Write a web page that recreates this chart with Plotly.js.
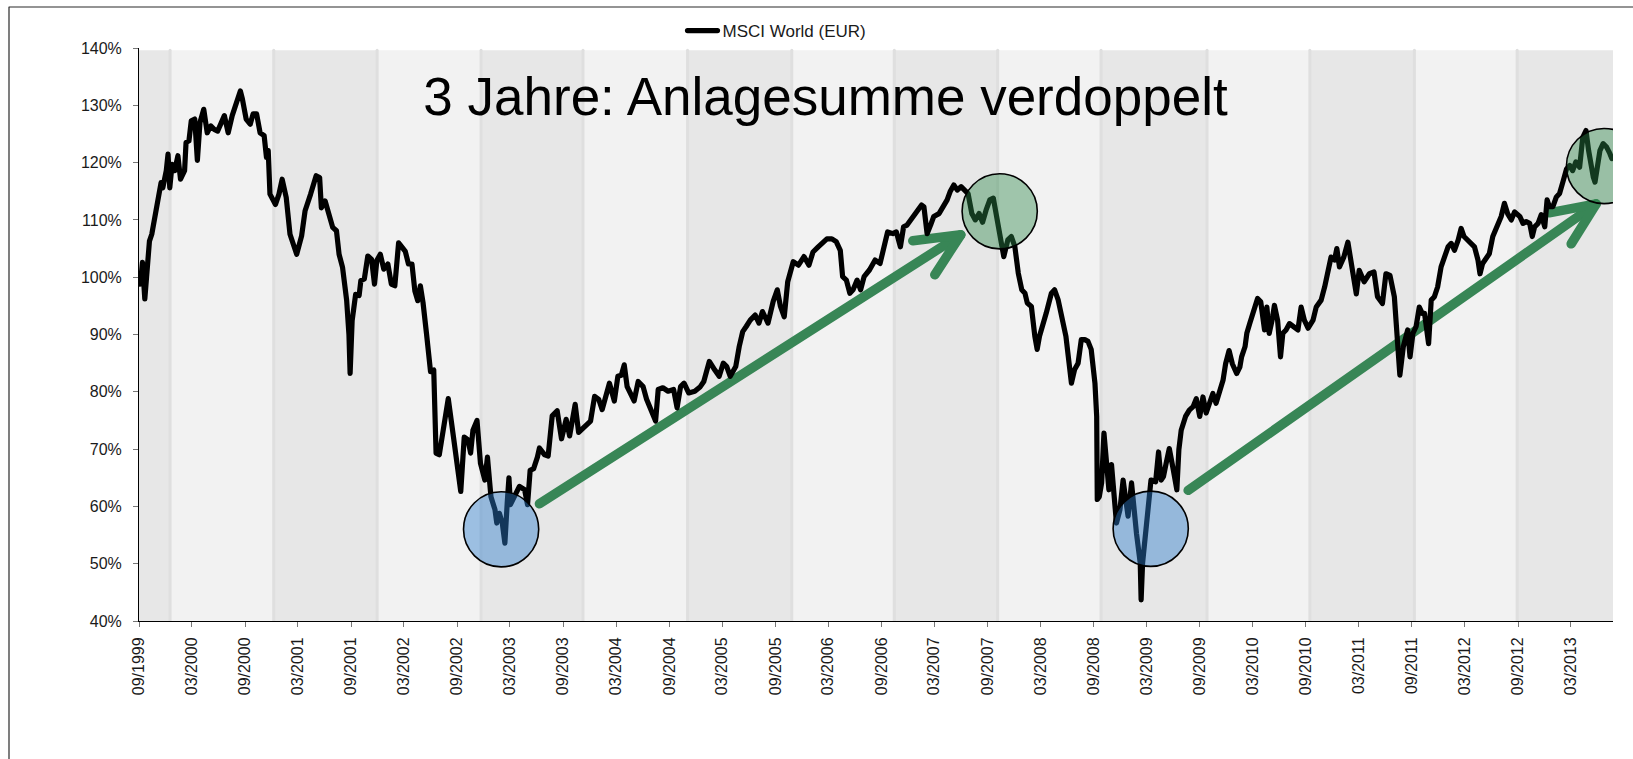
<!DOCTYPE html>
<html>
<head>
<meta charset="utf-8">
<script src="https://cdn.plot.ly/plotly-3.0.1.min.js"></script>
<style>
html,body{margin:0;padding:0;background:#ffffff;}
#chart{width:1633px;height:759px;}
.js-line{stroke-linejoin:round !important;stroke-linecap:round !important;}
.shapelayer path{stroke-linejoin:round !important;stroke-linecap:round !important;}
</style>
</head>
<body>
<div id="chart"></div>
<script>
// ---------------- data ----------------
const seriesName = 'MSCI World (EUR)';
const chartTitle = '3 Jahre: Anlagesumme verdoppelt';

const dates = [
'1999-09-01','1999-09-06','1999-09-13','1999-09-21','1999-09-27','1999-10-07','1999-10-15','1999-10-24','1999-11-04','1999-11-10',
'1999-11-16','1999-11-22','1999-11-28','1999-12-04','1999-12-10','1999-12-16','1999-12-24','2000-01-02','2000-01-13','2000-01-22',
'2000-02-05','2000-02-10','2000-02-20','2000-02-28','2000-03-11','2000-03-20','2000-03-29','2000-04-11','2000-04-23','2000-05-05',
'2000-05-17','2000-05-29','2000-06-21','2000-07-04','2000-07-18','2000-07-30','2000-08-15','2000-08-22','2000-09-04','2000-09-18',
'2000-09-28','2000-10-10','2000-10-22','2000-11-05','2000-11-13','2000-11-19','2000-11-25','2000-12-14','2000-12-26','2001-01-06',
'2001-01-20','2001-02-02','2001-02-25','2001-03-14','2001-03-26','2001-04-14','2001-05-03','2001-05-15','2001-05-21','2001-06-03',
'2001-06-15','2001-06-29','2001-07-12','2001-07-21','2001-08-02','2001-08-16','2001-08-24','2001-08-28','2001-09-04','2001-09-10',
'2001-09-16','2001-09-28','2001-10-04','2001-10-16','2001-10-28','2001-11-10','2001-11-20','2001-11-28','2001-12-10','2001-12-22',
'2002-01-05','2002-01-17','2002-01-29','2002-02-11','2002-02-22','2002-03-06','2002-03-17','2002-03-29','2002-04-08','2002-04-18',
'2002-04-27','2002-05-06','2002-05-18','2002-06-01','2002-06-12','2002-06-20','2002-07-01','2002-07-13','2002-08-01','2002-08-19',
'2002-09-02','2002-09-13','2002-09-25','2002-10-08','2002-10-17','2002-10-25','2002-11-08','2002-11-20','2002-12-05','2002-12-14',
'2002-12-26','2003-01-09','2003-01-15','2003-01-24','2003-02-03','2003-02-12','2003-02-20','2003-02-26','2003-03-03','2003-03-15',
'2003-04-03','2003-04-21','2003-05-01','2003-05-10','2003-05-22','2003-06-04','2003-06-11','2003-06-29','2003-07-11','2003-07-25',
'2003-08-11','2003-08-26','2003-09-11','2003-09-23','2003-10-12','2003-10-24','2003-11-12','2003-12-04','2003-12-18','2004-01-01',
'2004-01-13','2004-01-24','2004-02-07','2004-02-24','2004-03-07','2004-03-19','2004-03-29','2004-04-08','2004-04-20','2004-05-02',
'2004-05-16','2004-06-02','2004-06-14','2004-06-26','2004-07-15','2004-07-24','2004-08-09','2004-08-27','2004-09-15','2004-09-27',
'2004-10-09','2004-10-21','2004-11-06','2004-11-27','2004-12-16','2004-12-28','2005-01-16','2005-02-04','2005-02-19','2005-03-05',
'2005-03-17','2005-03-29','2005-04-17','2005-04-29','2005-05-11','2005-05-23','2005-06-06','2005-06-23','2005-07-06','2005-07-18',
'2005-08-06','2005-08-24','2005-09-07','2005-09-18','2005-10-01','2005-10-13','2005-11-01','2005-11-19','2005-12-08','2005-12-25',
'2006-01-08','2006-01-26','2006-02-08','2006-02-25','2006-03-14','2006-03-29','2006-04-12','2006-04-20','2006-05-03','2006-05-15',
'2006-05-26','2006-06-09','2006-06-21','2006-07-03','2006-07-22','2006-08-10','2006-08-27','2006-09-10','2006-09-22','2006-10-10',
'2006-10-22','2006-11-05','2006-11-16','2006-11-28','2006-12-14','2006-12-29','2007-01-17','2007-01-25','2007-02-05','2007-02-17',
'2007-02-28','2007-03-18','2007-03-30','2007-04-15','2007-04-25','2007-05-08','2007-05-20','2007-06-02','2007-06-14','2007-06-26',
'2007-07-09','2007-07-21','2007-08-03','2007-08-15','2007-08-27','2007-09-09','2007-09-21','2007-10-03','2007-10-15','2007-10-27',
'2007-11-10','2007-11-22','2007-12-04','2007-12-16','2007-12-28','2008-01-08','2008-01-16','2008-01-30','2008-02-11','2008-02-19',
'2008-02-27','2008-03-10','2008-03-21','2008-04-08','2008-04-19','2008-05-01','2008-05-12','2008-05-28','2008-06-16','2008-06-27',
'2008-07-09','2008-07-20','2008-08-01','2008-08-12','2008-08-23','2008-09-05','2008-09-11','2008-09-13','2008-09-20','2008-09-28',
'2008-10-06','2008-10-15','2008-10-23','2008-11-01','2008-11-07','2008-11-18','2008-11-30','2008-12-11','2008-12-20','2008-12-28',
'2009-01-09','2009-01-17','2009-01-26','2009-02-08','2009-02-11','2009-02-16','2009-02-24','2009-03-06','2009-03-17','2009-04-02',
'2009-04-12','2009-04-21','2009-04-29','2009-05-08','2009-05-19','2009-06-01','2009-06-14','2009-06-21','2009-06-29','2009-07-14',
'2009-07-27','2009-08-09','2009-08-20','2009-09-01','2009-09-12','2009-09-23','2009-10-05','2009-10-16','2009-10-27','2009-11-09',
'2009-11-20','2009-11-29','2009-12-11','2009-12-22','2010-01-06','2010-01-17','2010-01-23','2010-02-04','2010-02-10','2010-02-20',
'2010-03-08','2010-03-19','2010-03-30','2010-04-12','2010-04-20','2010-04-28','2010-05-08','2010-05-16','2010-05-27','2010-06-06',
'2010-06-14','2010-06-25','2010-07-07','2010-07-24','2010-08-05','2010-08-16','2010-08-27','2010-09-09','2010-09-26','2010-10-07',
'2010-10-24','2010-11-05','2010-11-16','2010-11-27','2010-12-09','2010-12-17','2010-12-26','2011-01-10','2011-01-24','2011-02-05',
'2011-02-13','2011-02-22','2011-03-04','2011-03-21','2011-04-08','2011-04-24','2011-05-06','2011-05-23','2011-06-04','2011-06-18',
'2011-07-03','2011-07-11','2011-07-22','2011-08-03','2011-08-18','2011-08-26','2011-09-05','2011-09-16','2011-09-27','2011-10-07',
'2011-10-15','2011-10-29','2011-11-07','2011-11-18','2011-11-29','2011-12-11','2011-12-22','2012-01-04','2012-01-15','2012-01-26',
'2012-02-08','2012-02-18','2012-02-28','2012-03-12','2012-03-23','2012-04-04','2012-04-16','2012-04-23','2012-05-02','2012-05-14',
'2012-05-25','2012-06-06','2012-06-20','2012-07-05','2012-07-16','2012-07-27','2012-08-09','2012-08-20','2012-09-07','2012-09-18',
'2012-09-29','2012-10-11','2012-10-20','2012-10-28','2012-11-09','2012-11-20','2012-12-02','2012-12-10','2012-12-18','2012-12-30',
'2013-01-11','2013-01-22','2013-02-04','2013-02-15','2013-02-26','2013-03-08','2013-03-19','2013-04-01','2013-04-12','2013-04-23',
'2013-05-02','2013-05-10','2013-05-18','2013-05-24','2013-06-03','2013-06-10','2013-06-21','2013-07-03','2013-07-14','2013-07-21'
];

const values = [
100.0,98.8,102.6,96.2,100.0,106.3,107.5,110.4,113.3,115.0,
116.5,115.6,116.8,118.6,121.5,115.6,119.7,118.6,121.2,117.1,
118.6,123.5,123.8,127.3,127.6,120.4,127.0,129.3,125.2,126.4,
125.8,125.5,128.2,125.2,128.2,130.2,132.5,131.1,127.6,126.7,
128.5,128.5,125.2,124.7,120.9,122.1,114.5,112.7,114.5,117.1,
113.9,107.5,104.0,107.2,111.6,114.5,117.7,117.4,112.1,113.3,
110.9,108.7,108.1,104.0,101.7,96.0,90.0,83.2,92.4,95.9,
97.0,96.8,99.4,99.7,103.7,103.1,98.8,102.9,104.0,101.4,
102.3,98.8,98.5,106.0,105.1,104.5,102.3,102.3,97.6,95.9,
98.5,95.6,90.2,83.5,83.8,69.3,69.0,72.7,78.8,72.1,
66.9,62.6,72.1,71.6,69.3,73.3,75.0,67.5,64.6,68.6,
61.7,59.4,57.1,58.8,57.1,53.6,60.6,65.0,60.3,61.7,
63.5,62.9,60.3,66.3,66.6,68.6,70.2,69.0,68.8,75.8,
76.7,71.8,75.2,72.3,77.8,72.9,73.8,74.9,79.2,78.7,
76.9,79.2,81.5,78.4,82.7,82.9,84.7,80.9,79.8,78.4,
81.8,80.9,78.7,77.2,74.9,80.4,80.7,80.1,80.4,77.2,
80.9,81.5,79.8,80.1,80.9,81.8,85.3,83.8,82.7,85.0,
84.4,82.7,84.4,87.9,90.5,91.4,92.5,93.4,92.0,94.0,
92.0,95.8,97.8,94.9,93.1,99.2,102.7,102.1,103.6,102.1,
104.4,105.3,105.9,106.7,106.7,106.2,104.7,100.1,99.5,97.2,
97.8,99.5,97.8,100.1,101.3,103.0,102.4,105.3,107.9,107.6,
107.9,105.3,108.8,109.1,110.3,111.1,112.6,112.3,107.6,109.1,
110.6,111.1,112.0,113.5,114.9,116.1,115.2,115.8,115.2,114.6,
111.1,110.0,111.1,109.6,111.7,113.5,113.8,110.5,107.7,103.6,
106.5,107.1,105.4,100.7,97.8,97.2,95.5,94.9,89.7,87.4,
89.7,92.3,93.7,97.2,97.8,96.1,93.7,89.7,81.5,83.9,
85.0,89.1,89.1,88.8,87.4,81.5,75.7,61.2,61.7,64.1,
72.8,66.4,62.9,67.3,62.9,57.1,59.4,64.6,61.2,58.3,
64.1,59.4,55.3,50.1,43.7,50.1,53.6,58.3,64.6,64.3,
69.5,64.6,65.2,67.5,70.1,66.6,62.9,69.9,73.3,75.7,
76.8,77.4,78.8,75.7,79.1,76.3,78.0,79.7,78.0,80.3,
82.0,84.9,87.2,84.9,83.2,84.3,86.1,87.9,90.2,91.9,
94.8,96.3,95.7,90.8,94.8,90.2,92.5,95.1,92.5,86.1,
90.2,90.8,91.9,91.4,90.8,94.8,92.5,91.1,92.5,94.8,
96.0,98.3,101.2,103.5,103.0,105.0,101.8,103.5,106.1,102.3,
100.6,97.1,101.2,99.2,100.6,100.9,96.6,95.4,100.6,100.3,
96.6,90.2,82.9,87.9,90.8,86.1,90.2,91.4,94.8,93.7,
93.7,88.4,96.0,96.6,98.3,101.8,103.5,105.3,105.9,104.7,
106.5,108.5,107.1,106.5,105.9,105.3,103.0,100.6,102.4,103.5,
104.1,107.1,108.8,110.6,112.9,111.1,110.0,111.4,110.6,109.4,
109.7,109.4,107.1,108.8,109.4,110.9,108.8,113.5,112.3,112.3,
114.0,114.6,116.9,118.9,119.5,118.6,120.1,119.2,124.4,125.6,
122.1,119.2,117.5,116.6,119.2,122.1,123.3,122.7,121.6,120.7
];

// axis settings
const xRange = ['1999-09-01', '2013-07-25'];
const yRange = [40, 140];
const bandTop = 139.6;
// background band boundaries (alternating shading)
const bandEdges = ['1999-12-17','2000-12-08','2001-11-29','2002-11-22','2003-11-08','2004-11-02','2005-10-27',
                   '2006-10-15','2007-10-06','2008-09-26','2009-09-26','2010-09-15','2011-09-10','2012-08-29'];
// highlighted lows (blue) and highs (green)
const lowDates = ['2003-01-30', '2009-03-16'];
const lowValues = [56.0, 56.1];
const highDates = ['2007-10-13', '2013-06-24'];
const highValues = [111.5, 119.4];
// arrows: tail -> tip
const arrowTailDates = ['2003-06-11', '2009-07-23'];
const arrowTailValues = [60.45, 62.8];
const arrowTipDates = ['2007-06-01', '2013-05-28'];
const arrowTipValues = [107.4, 112.8];

// ---------------- layout ----------------
const W = 1633, H = 759;
const margin = {l: 139, r: 20, t: 48, b: 138, pad: 0, autoexpand: false};
const plotW = W - margin.l - margin.r, plotH = H - margin.t - margin.b;
const pxX = px => (px - margin.l) / plotW;
const pxY = py => (H - margin.b - py) / plotH;

const FONT = 'Liberation Sans, Arial, Helvetica, sans-serif';
const DARK_BAND = '#e7e7e7', LIGHT_BAND = '#f2f2f2', EDGE = '#dfdfdf';
const GREEN = '#388656';

const shapes = [];
// bands
const edgesAll = [xRange[0]].concat(bandEdges, [xRange[1]]);
for (let i = 0; i < edgesAll.length - 1; i++) {
  shapes.push({type: 'rect', xref: 'x', yref: 'y', x0: edgesAll[i], x1: edgesAll[i + 1], y0: yRange[0], y1: bandTop,
    fillcolor: i % 2 === 0 ? DARK_BAND : LIGHT_BAND, line: {width: 0}, layer: 'below'});
}
bandEdges.forEach(d => shapes.push({type: 'line', xref: 'x', yref: 'y', x0: d, x1: d, y0: yRange[0], y1: bandTop,
  line: {color: EDGE, width: 3}, layer: 'below'}));
// arrows
const heads = ['M-48,-6L0,0L-26,-40', 'M-47,-9L0,0L-25,-40'];
for (let i = 0; i < arrowTipDates.length; i++) {
  shapes.push({type: 'line', xref: 'x', yref: 'y', x0: arrowTailDates[i], y0: arrowTailValues[i],
    x1: arrowTipDates[i], y1: arrowTipValues[i], line: {color: GREEN, width: 9.5}, layer: 'below'});
  shapes.push({type: 'path', xref: 'x', yref: 'y', xsizemode: 'pixel', ysizemode: 'pixel',
    xanchor: arrowTipDates[i], yanchor: arrowTipValues[i], path: heads[i],
    line: {color: GREEN, width: 9.5}, layer: 'below'});
}
// circles
const R = 37.6;
function circle(d, v, fill) {
  return {type: 'circle', xref: 'x', yref: 'y', xsizemode: 'pixel', ysizemode: 'pixel',
    xanchor: d, yanchor: v, x0: -R, x1: R, y0: -R, y1: R,
    fillcolor: fill, line: {color: '#000000', width: 1.6}, layer: 'above'};
}
lowDates.forEach((d, i) => shapes.push(circle(d, lowValues[i], 'rgba(45,125,205,0.44)')));
highDates.forEach((d, i) => shapes.push(circle(d, highValues[i], 'rgba(45,135,75,0.42)')));
// outer frame
shapes.push({type: 'rect', xref: 'paper', yref: 'paper', x0: pxX(9), x1: pxX(1700), y0: pxY(820), y1: pxY(7),
  line: {color: '#2a2a2a', width: 1.2}, fillcolor: 'rgba(0,0,0,0)', layer: 'above'});

const trace = {
  type: 'scatter', mode: 'lines', name: seriesName,
  x: dates, y: values,
  line: {color: '#000000', width: 5.2},
  hoverinfo: 'skip', showlegend: true
};

const layout = {
  width: W, height: H,
  margin: margin,
  paper_bgcolor: '#ffffff', plot_bgcolor: '#ffffff',
  font: {family: FONT, size: 16, color: '#1a1a1a'},
  title: {text: chartTitle, font: {family: FONT, size: 53, color: '#000000'},
    xref: 'container', yref: 'container', x: 825.5 / W, y: 1 - 96 / H, xanchor: 'center', yanchor: 'middle'},
  showlegend: true,
  legend: {orientation: 'h', x: pxX(682.5), y: pxY(31), xanchor: 'left', yanchor: 'middle',
    bgcolor: 'rgba(0,0,0,0)', borderwidth: 0, font: {family: FONT, size: 17, color: '#1a1a1a'}},
  xaxis: {type: 'date', range: xRange, tick0: '1999-09-01', dtick: 'M6', tickformat: '%m/%Y',
    tickangle: -90, ticks: 'outside', ticklen: 5, tickcolor: '#777', tickwidth: 1,
    showline: true, linecolor: '#000', linewidth: 1, showgrid: false, zeroline: false,
    tickfont: {family: FONT, size: 16, color: '#1a1a1a'}, ticklabelstandoff: 4, fixedrange: true},
  yaxis: {range: yRange, dtick: 10, ticksuffix: '%', ticks: 'outside', ticklen: 5, tickcolor: '#777', tickwidth: 1,
    showline: true, linecolor: '#000', linewidth: 1, showgrid: false, zeroline: false,
    tickfont: {family: FONT, size: 16, color: '#1a1a1a'}, ticklabelstandoff: 8, fixedrange: true},
  shapes: shapes
};

Plotly.newPlot('chart', [trace], layout, {displayModeBar: false, staticPlot: true});
</script>
</body>
</html>
